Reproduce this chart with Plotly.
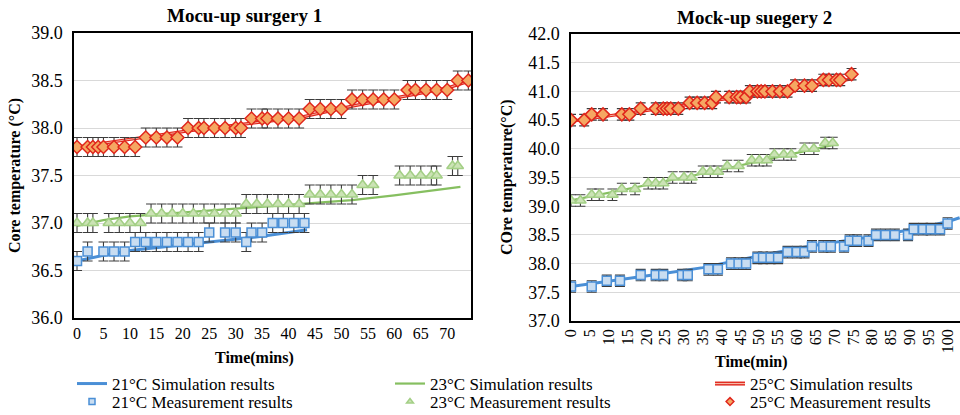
import plotly.graph_objects as go

# ---------------- DATA ----------------
# Mock-up surgery 1 (left)
t21_L = [0, 2, 5, 7, 9, 11, 13, 15, 17, 19, 21, 23, 25, 28, 30, 32, 33, 35, 37, 39, 41, 43]
v21_L = [36.6, 36.7, 36.7, 36.7, 36.7, 36.8, 36.8, 36.8, 36.8, 36.8, 36.8, 36.8, 36.9, 36.9, 36.9,
         36.8, 36.9, 36.9, 37.0, 37.0, 37.0, 37.0]
t23_L = [0, 2, 3, 6, 8, 10, 12, 14, 16, 18, 20, 22, 24, 26, 28, 30, 32, 34, 36, 38, 40, 42,
         44, 46, 48, 50, 52, 54, 56, 61, 63, 65, 67, 68, 71, 72]
v23_L = [37.0, 37.0, 37.0, 37.0, 37.0, 37.0, 37.0, 37.1, 37.1, 37.1, 37.1, 37.1, 37.1, 37.1, 37.1, 37.1,
         37.2, 37.2, 37.2, 37.2, 37.2, 37.2, 37.3, 37.3, 37.3, 37.3, 37.3, 37.4, 37.4,
         37.5, 37.5, 37.5, 37.5, 37.5, 37.6, 37.6]
t25_L = [0, 2, 3, 4, 5, 7, 9, 11, 13, 15, 17, 19, 21, 23, 24, 26, 28, 30, 31, 33, 35, 36, 38, 40, 42,
         44, 46, 48, 50, 52, 54, 56, 58, 60, 62.5, 64, 66, 68, 70, 72, 74]
v25_L = [37.8, 37.8, 37.8, 37.8, 37.8, 37.8, 37.8, 37.8, 37.9, 37.9, 37.9, 37.9,
         38.0, 38.0, 38.0, 38.0, 38.0, 38.0, 38.0, 38.1, 38.1, 38.1, 38.1, 38.1, 38.1,
         38.2, 38.2, 38.2, 38.2, 38.3, 38.3, 38.3, 38.3, 38.3, 38.4, 38.4, 38.4, 38.4, 38.4, 38.5, 38.5]
sim21_L_t = [0, 5, 10, 15, 20, 25, 30, 35, 40, 43.5]
sim21_L_v = [36.6, 36.66, 36.71, 36.74, 36.77, 36.8, 36.83, 36.86, 36.9, 36.93]
sim23_L_t = [0, 5, 10, 15, 20, 30, 42, 52, 60, 72.5]
sim23_L_v = [36.97, 37.03, 37.07, 37.09, 37.11, 37.15, 37.2, 37.24, 37.29, 37.38]
sim25_L_t = [0, 10, 21, 30, 42, 52, 62.7, 70, 74.5]
sim25_L_v = [37.8, 37.88, 37.97, 38.03, 38.11, 38.23, 38.34, 38.42, 38.5]

# Mock-up surgery 2 (right)
t21_R = [0, 5.5, 9.5, 13, 18.5, 22.5, 24.5, 29.5, 31, 36.5, 39, 42.5, 44.5, 46.5, 49.5, 51, 53, 55,
         57.5, 60, 62, 64, 67, 69, 72.5, 74, 76, 79, 81, 83.5, 86, 89.5, 91, 93.5, 95.5, 98, 100]
v21_R = [37.6, 37.6, 37.7, 37.7, 37.8, 37.8, 37.8, 37.8, 37.8, 37.9, 37.9, 38.0, 38.0, 38.0,
         38.1, 38.1, 38.1, 38.1, 38.2, 38.2, 38.2, 38.3, 38.3, 38.3, 38.3, 38.4, 38.4, 38.4,
         38.5, 38.5, 38.5, 38.5, 38.6, 38.6, 38.6, 38.6, 38.7]
t23_R = [0, 2.5, 5.5, 7.5, 11, 13.5, 17, 20.5, 22.5, 24.5, 27, 30, 32, 35, 37, 39, 41.5, 44.5,
         48, 50, 52, 54, 56.5, 58.5, 62, 64.5, 67.5, 69.5]
v23_R = [39.1, 39.1, 39.2, 39.2, 39.2, 39.3, 39.3, 39.4, 39.4, 39.4, 39.5, 39.5, 39.5, 39.6, 39.6,
         39.6, 39.7, 39.7, 39.8, 39.8, 39.8, 39.9, 39.9, 39.9, 40.0, 40.0, 40.1, 40.1]
t25_R = [0, 3.5, 5.5, 8.5, 13.5, 15.5, 18.5, 22.5, 24.5, 25.5, 26.5, 28.5, 31.5, 33.5, 35.5, 37.5,
         38.5, 42, 44, 45, 46.5, 47.5, 49.5, 50.5, 51.5, 53.5, 55.5, 57.5, 59.5, 62, 64,
         67, 68.5, 70.5, 71.5, 74.5]
v25_R = [40.5, 40.5, 40.6, 40.6, 40.6, 40.6, 40.7, 40.7, 40.7, 40.7, 40.7, 40.7, 40.8, 40.8, 40.8, 40.8,
         40.9, 40.9, 40.9, 40.9, 40.9, 41.0, 41.0, 41.0, 41.0, 41.0, 41.0, 41.0, 41.1, 41.1, 41.1,
         41.2, 41.2, 41.2, 41.2, 41.3]
sim21_R_t = [0, 10, 25, 35, 42, 51, 64, 80, 90, 100, 103.2]
sim21_R_v = [37.6, 37.69, 37.83, 37.93, 38.03, 38.15, 38.31, 38.47, 38.59, 38.73, 38.8]
sim23_R_t = [0, 10, 20, 30, 40, 50, 60, 70]
sim23_R_v = [39.1, 39.23, 39.37, 39.5, 39.64, 39.79, 39.93, 40.07]
sim25_R_t = [0, 10, 20, 30, 40, 50, 60, 70, 75]
sim25_R_v = [40.48, 40.57, 40.66, 40.76, 40.86, 40.96, 41.06, 41.16, 41.22]

err = 0.1
legend_names = ["21°C Simulation results", "23°C Simulation results", "25°C Simulation results",
                "21°C Measurement results", "23°C Measurement results", "25°C Measurement results"]
titles = ["Mocu-up surgery 1", "Mock-up suegery 2"]
ytitles = ["Core temperature (°C)", "COre temperature(°C)"]
xtitles = ["Time(mins)", "Time(min)"]

# ---------------- STYLE ----------------
FONT = "Liberation Serif, Times New Roman, Tinos, DejaVu Serif, serif"
BLUE, GREEN, RED, PINK = "#4A8FD6", "#86BF60", "#E0261C", "#F7B9A8"
EB = dict(type="constant", value=err, color="#3c3c3c", thickness=1.1, width=5)
SQ = dict(symbol="square", color="#C9DDF1", line=dict(color=BLUE, width=1.5))
TR = dict(symbol="triangle-up", color="#CBE3B5", line=dict(color="#A3CF85", width=1.5))
DI = dict(symbol="diamond", color="#F5A762", line=dict(color=RED, width=1.5))

fig = go.Figure()

def sim(x, y, color, w, ax):
    fig.add_trace(go.Scatter(x=x, y=y, mode="lines", line=dict(color=color, width=w),
                             showlegend=False, xaxis="x" + ax, yaxis="y" + ax, hoverinfo="skip"))

def meas(x, y, mk, size, ax):
    fig.add_trace(go.Scatter(x=x, y=y, mode="markers", showlegend=False,
                             marker=dict(size=size, **mk),
                             error_y=EB, xaxis="x" + ax, yaxis="y" + ax))

for ax, d in [("", (sim21_L_t, sim21_L_v, sim23_L_t, sim23_L_v, sim25_L_t, sim25_L_v,
                    t21_L, v21_L, t23_L, v23_L, t25_L, v25_L)),
              ("2", (sim21_R_t, sim21_R_v, sim23_R_t, sim23_R_v, sim25_R_t, sim25_R_v,
                     t21_R, v21_R, t23_R, v23_R, t25_R, v25_R))]:
    sim(d[0], d[1], BLUE, 3, ax)
    sim(d[2], d[3], GREEN, 2.2, ax)
    sim(d[4], d[5], RED, 3.2, ax)
    sim(d[4], d[5], PINK, 0.9, ax)
    meas(d[6], d[7], SQ, 9, ax)
    meas(d[8], d[9], TR, 10, ax)
    meas(d[10], d[11], DI, 10, ax)

# legend entries (one legend per entry for exact placement)
leg_specs = [
    (legend_names[0], dict(mode="lines", line=dict(color=BLUE, width=3))),
    (legend_names[1], dict(mode="lines", line=dict(color=GREEN, width=2.2))),
    (legend_names[2], dict(mode="lines", line=dict(color=RED, width=4))),
    (legend_names[3], dict(mode="markers", marker=dict(size=6, **SQ))),
    (legend_names[4], dict(mode="markers", marker=dict(size=6, **TR))),
    (legend_names[5], dict(mode="markers", marker=dict(size=6, **DI))),
    (" ", dict(mode="lines", line=dict(color=PINK, width=1.2))),
]
leg_ids = ["legend", "legend2", "legend3", "legend4", "legend5", "legend6", "legend7"]
for (name, spec), lid in zip(leg_specs, leg_ids):
    fig.add_trace(go.Scatter(x=[None], y=[None], name=name, legend=lid, showlegend=True,
                             xaxis="x", yaxis="y", **spec))

W, H = 960, 415
def px(v): return min(1.0, v / W)
def py(v): return 1 - v / H

axis_common = dict(showline=True, linecolor="black", linewidth=1.5, mirror=True, ticks="",
                   zeroline=False, automargin=False)
yfont = dict(family=FONT, size=18, color="black")
xfont = dict(family=FONT, size=16, color="black")

def leg(x, y):
    return dict(orientation="v", yanchor="middle", y=py(y), xanchor="left", x=px(x),
                xref="container", yref="container",
                bgcolor="rgba(0,0,0,0)", font=dict(family=FONT, size=17, color="black"),
                itemwidth=30)

col_x = [72, 390, 710]
row_y = [384, 402]

fig.update_layout(
    width=W, height=H, margin=dict(l=0, r=0, t=0, b=0, autoexpand=False),
    plot_bgcolor="white", paper_bgcolor="white",
    xaxis=dict(domain=[px(74), px(471)], range=[-0.57, 74.5], tickvals=list(range(0, 75, 5)),
               showgrid=False, anchor="y", tickfont=xfont, **axis_common),
    yaxis=dict(domain=[py(318), py(33)], range=[36.0, 39.0], dtick=0.5, tickformat=".1f",
               showgrid=True, gridcolor="#d9d9d9", gridwidth=1, anchor="x", tickfont=yfont,
               ticklabelstandoff=6, **axis_common),
    xaxis2=dict(domain=[px(571), px(960)], range=[0, 103.3], tickvals=list(range(0, 101, 5)),
                tickangle=-90, showgrid=False, anchor="y2", tickfont=xfont, **axis_common),
    yaxis2=dict(domain=[py(321), py(34)], range=[37.0, 42.0], dtick=0.5, tickformat=".1f",
                showgrid=True, gridcolor="#d9d9d9", gridwidth=1, anchor="x2", tickfont=yfont,
                ticklabelstandoff=6, **axis_common),
    legend=leg(col_x[0], row_y[0]),
    legend2=leg(col_x[1], row_y[0]),
    legend3=leg(col_x[2], row_y[0]),
    legend4=leg(col_x[0], row_y[1]),
    legend5=leg(col_x[1], row_y[1]),
    legend6=leg(col_x[2], row_y[1]),
    legend7=leg(col_x[2], row_y[0]),
    showlegend=True,
)

ann = []
tf = dict(family=FONT, size=19, color="black")
af = dict(family=FONT, size=16, color="black")
ann.append(dict(text="<b>%s</b>" % titles[0], x=px(245), y=py(16), xref="paper", yref="paper",
                showarrow=False, font=tf, xanchor="center", yanchor="middle"))
ann.append(dict(text="<b>%s</b>" % titles[1], x=px(754), y=py(17), xref="paper", yref="paper",
                showarrow=False, font=tf, xanchor="center", yanchor="middle"))
ann.append(dict(text="<b>%s</b>" % ytitles[0], x=px(15), y=py(176), xref="paper", yref="paper",
                showarrow=False, font=af, textangle=-90, xanchor="center", yanchor="middle"))
ann.append(dict(text="<b>%s</b>" % ytitles[1], x=px(507), y=py(177), xref="paper", yref="paper",
                showarrow=False, font=af, textangle=-90, xanchor="center", yanchor="middle"))
ann.append(dict(text="<b>%s</b>" % xtitles[0], x=px(254), y=py(358), xref="paper", yref="paper",
                showarrow=False, font=af, xanchor="center", yanchor="middle"))
ann.append(dict(text="<b>%s</b>" % xtitles[1], x=px(751), y=py(362), xref="paper", yref="paper",
                showarrow=False, font=af, xanchor="center", yanchor="middle"))
fig.update_layout(annotations=ann)

fig.write_html("out.html")
